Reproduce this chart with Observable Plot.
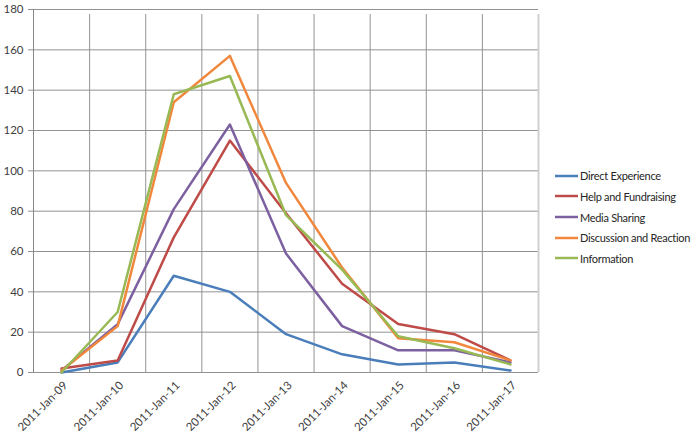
<!DOCTYPE html>
<html>
<head>
<meta charset="utf-8">
<script src="https://cdn.jsdelivr.net/npm/d3@7"></script>
<script src="https://cdn.jsdelivr.net/npm/@observablehq/plot@0.6"></script>
<style>
  html, body { margin: 0; padding: 0; background: #fff; }
  #wrap { position: relative; width: 700px; height: 435px; font-family: Lato, "Open Sans", sans-serif; }
  #legend { position: absolute; left: 555px; top: 165.5px; font-size: 11px; letter-spacing: -0.3px; color: #262626; }
  #legend .row { height: 20.65px; display: flex; align-items: center; white-space: nowrap; }
  #legend svg { margin-right: 2px; }
</style>
</head>
<body>
<div id="wrap"><div id="legend"></div></div>
<script>
const dates = ["2011-Jan-09","2011-Jan-10","2011-Jan-11","2011-Jan-12","2011-Jan-13","2011-Jan-14","2011-Jan-15","2011-Jan-16","2011-Jan-17"];
const seriesNames = ["Direct Experience","Help and Fundraising","Media Sharing","Discussion and Reaction","Information"];
const directExperience = [0, 5, 48, 40, 19, 9, 4, 5, 1];
const helpAndFundraising = [2, 6, 67, 115, 79, 44, 24, 19, 6];
const mediaSharing = [1, 24, 81, 123, 59, 23, 11, 11, 5];
const discussionAndReaction = [1, 23, 134, 157, 94, 52, 17, 15, 6];
const information = [0, 30, 138, 147, 78, 51, 18, 12, 4];
const yTicks = [0, 20, 40, 60, 80, 100, 120, 140, 160, 180];
const colors = ["#4A7EBB", "#BE4B48", "#7D60A0", "#F0873C", "#98B954"];

const allSeries = [directExperience, helpAndFundraising, mediaSharing, discussionAndReaction, information];
const rows = [];
allSeries.forEach((vals, s) => vals.forEach((v, i) => rows.push({series: seriesNames[s], i, date: dates[i], value: v})));
const boundaries = d3.range(dates.length + 1).map(k => k - 0.5);

const chart = Plot.plot({
  width: 700,
  height: 435,
  marginLeft: 33,
  marginRight: 162,
  marginTop: 9,
  marginBottom: 63,
  style: {fontFamily: "Lato, 'Open Sans', sans-serif", fontSize: "11px", color: "#404040", background: "transparent"},
  x: {type: "linear", domain: [-0.5, dates.length - 0.5]},
  y: {domain: [0, 180]},
  color: {domain: seriesNames, range: colors},
  marks: [
    Plot.ruleY(yTicks, {y: d => d, x1: -0.5, x2: dates.length - 0.5, stroke: "#929292", strokeWidth: 1, insetLeft: -5}),
    Plot.ruleX(boundaries.slice(1, -1), {x: d => d, y1: 0, y2: 180, stroke: "#929292", strokeWidth: 1, insetBottom: -5}),
    Plot.ruleX([dates.length - 0.5], {x: d => d, y1: 0, y2: 180, stroke: "#d0d0d0", strokeWidth: 2, insetBottom: -5}),
    Plot.ruleX([-0.5], {x: d => d, y1: 0, y2: 180, stroke: "#868686", strokeWidth: 1}),
    Plot.axisY({ticks: yTicks, tickSize: 0, tickPadding: 10, label: null, fill: "#404040", fontSize: 11.5}),
    Plot.axisX({ticks: d3.range(dates.length), tickFormat: i => dates[i], tickSize: 0, tickRotate: -45, tickPadding: 6, dx: 4, dy: 5, label: null, fill: "#404040", fontSize: 11.5}),
    Plot.line(rows, {x: "i", y: "value", z: "series", stroke: "series", strokeWidth: 2.5, strokeLinejoin: "round"})
  ]
});
document.getElementById("wrap").prepend(chart);

const legend = document.getElementById("legend");
seriesNames.forEach((name, k) => {
  const row = document.createElement("div");
  row.className = "row";
  row.innerHTML = `<svg width="23" height="4"><line x1="0" x2="23" y1="2" y2="2" stroke="${colors[k]}" stroke-width="2.5"/></svg><span>${name}</span>`;
  legend.appendChild(row);
});
</script>
</body>
</html>
